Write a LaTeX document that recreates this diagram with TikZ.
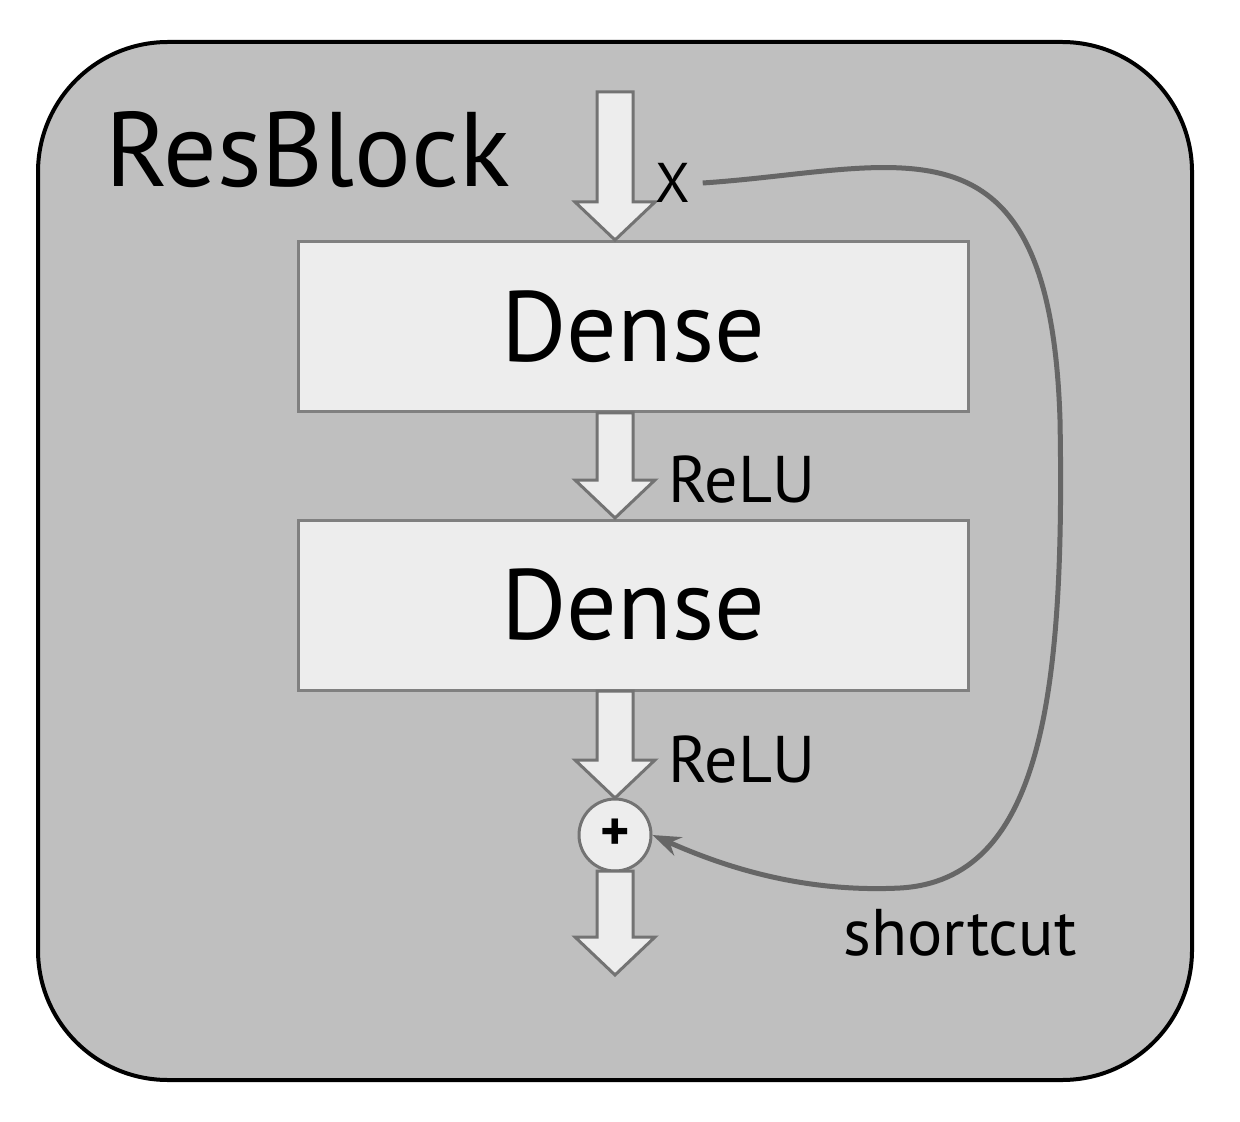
\documentclass[tikz,border=0pt]{standalone}
\usepackage{fontspec}
\setmainfont{PT Sans}
\usetikzlibrary{arrows.meta}
\begin{document}
\begin{tikzpicture}[x=0.5pt,y=-0.5pt,
  dense/.style={draw=black!50,line width=1.5pt,fill=black!7,minimum width=335pt,minimum height=85pt,inner sep=0pt,font=\fontsize{50}{50}\selectfont},
  barrow/.style={draw=black!55,line width=1.5pt,fill=black!7},
  lbl/.style={font=\fontsize{33}{33}\selectfont,inner sep=0pt}]
\useasboundingbox (0,0) rectangle (1240,1122);
\draw[line width=2pt,fill=black!25,rounded corners=65pt] (38,42) rectangle (1192,1080);
\node[font=\fontsize{53}{53}\selectfont,anchor=base west,inner sep=0pt] (title) at (105,187) {ResBlock};
\node[dense] (d1) at (633,327) {Dense};
\node[dense] (d2) at (633,605) {Dense};
\node[circle,draw=black!55,line width=1.5pt,fill=black!7,minimum size=36pt,inner sep=0pt,font=\bfseries\fontsize{28}{28}\selectfont] (plus) at (615,835) {+};
\newcommand{\blockarr}[3]{\draw[barrow] (#1-18,#2) -- (#1+18,#2) -- (#1+18,#3-38) -- (#1+40,#3-38) -- (#1,#3) -- (#1-40,#3-38) -- (#1-18,#3-38) -- cycle;}
\blockarr{615}{92}{240}
\blockarr{615}{413}{518}
\blockarr{615}{691}{798}
\blockarr{615}{871}{975}
\node[lbl,font=\fontsize{28}{28}\selectfont] (x) at (673,183) {X};
\node[lbl] (r1) at (742,480) {ReLU};
\node[lbl] (r2) at (742,760) {ReLU};
\node[lbl] (sc) at (960,933) {shortcut};
\draw[draw=black!60,line width=2.5pt,-{Stealth[length=14pt,width=10pt]}]
  ([xshift=6pt]x.east) .. controls (900,170) and (1050,100) .. (1060,420)
  .. controls (1065,700) and (1040,880) .. (900,888)
  .. controls (800,893) and (720,865) .. (plus.east);
\end{tikzpicture}
\end{document}
